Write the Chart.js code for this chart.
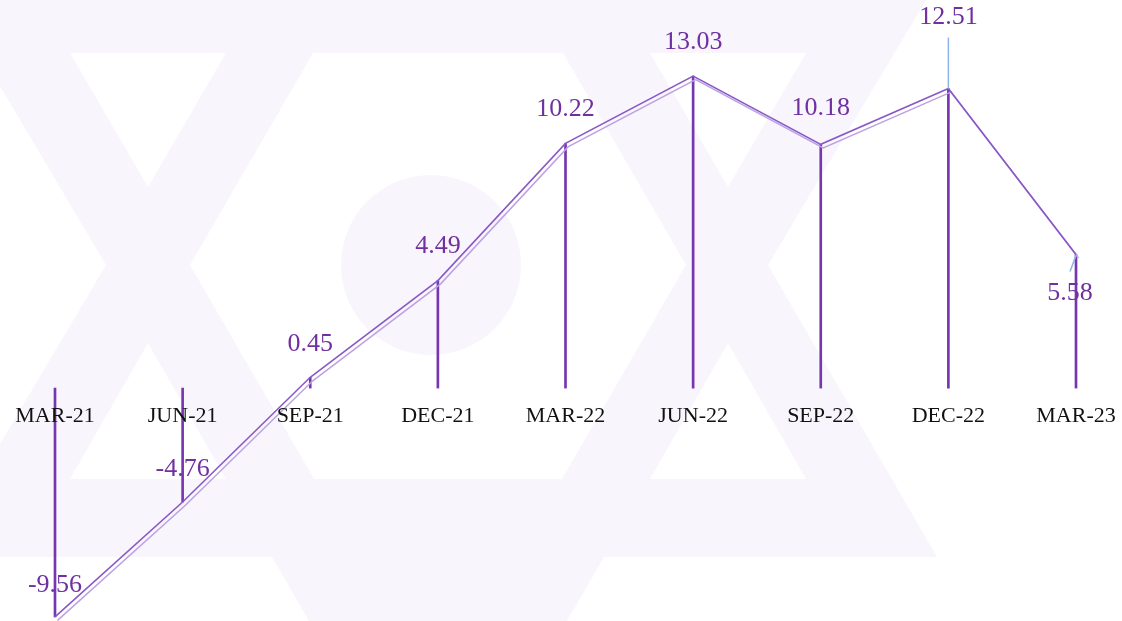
<!DOCTYPE html>
<html>
<head>
<meta charset="utf-8">
<script src="https://cdn.jsdelivr.net/npm/chart.js@4.4.1/dist/chart.umd.min.js"></script>
<style>
html,body{margin:0;padding:0;background:#ffffff;}
#wrap{width:1122px;height:621px;position:relative;overflow:hidden;}
canvas{display:block;}
</style>
</head>
<body>
<div id="wrap"><canvas id="c" width="1122" height="621"></canvas></div>
<script>
// ---- data ----
const categories = ['MAR-21','JUN-21','SEP-21','DEC-21','MAR-22','JUN-22','SEP-22','DEC-22','MAR-23'];
const values = [-9.56, -4.76, 0.45, 4.49, 10.22, 13.03, 10.18, 12.51, 5.58];
const valueLabels = ['-9.56','-4.76','0.45','4.49','10.22','13.03','10.18','12.51','5.58'];
const yRange = [-9.73, 16.21];

const LAV = '#f8f5fd';

const watermark = {
  id: 'watermark',
  beforeDraw(chart) {
    const ctx = chart.ctx;
    ctx.save();
    ctx.fillStyle = '#ffffff';
    ctx.fillRect(0, 0, chart.width, chart.height);
    const poly = (pts, color) => {
      ctx.beginPath();
      ctx.moveTo(pts[0][0], pts[0][1]);
      for (let i = 1; i < pts.length; i++) ctx.lineTo(pts[i][0], pts[i][1]);
      ctx.closePath();
      ctx.fillStyle = color;
      ctx.fill();
    };
    poly([[0,0],[926,0],[768,265],[937,557],[604,557],[567,621],[309,621],[272,557],[0,557]], LAV);
    poly([[70,53],[226,53],[148,187]], '#ffffff');
    poly([[0,86],[106,265],[0,444]], '#ffffff');
    poly([[70,479],[226,479],[148,343]], '#ffffff');
    poly([[313,53],[563,53],[686,265],[562,479],[314,479],[190,265]], '#ffffff');
    poly([[650,53],[806,53],[728,187]], '#ffffff');
    poly([[650,479],[806,479],[728,343]], '#ffffff');
    ctx.beginPath();
    ctx.arc(431, 265, 90, 0, Math.PI * 2);
    ctx.fillStyle = LAV;
    ctx.fill();
    ctx.restore();
  }
};

// draws a dataset shifted by a few pixels (used for the twin "shadow" line)
const shiftPlugin = {
  id: 'shiftPlugin',
  beforeDatasetDraw(chart, args) {
    const s = chart.data.datasets[args.index].pixelShift;
    chart.ctx.save();
    if (s) chart.ctx.translate(s[0], s[1]);
  },
  afterDatasetDraw(chart) {
    chart.ctx.restore();
  }
};

const labelsPlugin = {
  id: 'labelsPlugin',
  afterDatasetsDraw(chart, args, opts) {
    const ctx = chart.ctx;
    const xs = chart.scales.x, ys = chart.scales.y;
    const y0 = ys.getPixelForValue(0);
    ctx.save();
    // leader lines
    ctx.strokeStyle = '#8fb3e4';
    ctx.lineWidth = 1.5;
    const lead = opts.leaders || {};
    Object.keys(lead).forEach(k => {
      const i = +k;
      const px = xs.getPixelForValue(i), py = ys.getPixelForValue(values[i]);
      const L = lead[k];
      ctx.beginPath();
      ctx.moveTo(px + L[0], py + L[1]);
      ctx.lineTo(px + L[2], py + L[3]);
      ctx.stroke();
    });
    // category labels
    ctx.textAlign = 'center';
    ctx.textBaseline = 'middle';
    ctx.fillStyle = '#111111';
    ctx.font = '22px "Liberation Serif", "DejaVu Serif", serif';
    categories.forEach((c, i) => {
      ctx.fillText(c, xs.getPixelForValue(i), y0 + 28);
    });
    // value labels
    ctx.fillStyle = '#7030a0';
    ctx.font = '26px "Liberation Serif", "DejaVu Serif", serif';
    const off = opts.offsets || {};
    valueLabels.forEach((t, i) => {
      const px = xs.getPixelForValue(i), py = ys.getPixelForValue(values[i]);
      const o = off[i] || [0, -34];
      ctx.fillText(t, px + o[0], py + o[1]);
    });
    ctx.restore();
  }
};

new Chart(document.getElementById('c'), {
  type: 'bar',
  data: {
    labels: categories,
    datasets: [
      {
        type: 'bar',
        data: values,
        backgroundColor: '#7636b0',
        borderWidth: 0,
        barThickness: 2,
        clip: false,
        order: 3
      },
      {
        type: 'line',
        data: values,
        borderColor: '#bba3e2',
        borderWidth: 1.5,
        pointRadius: 0,
        tension: 0,
        clip: false,
        order: 2,
        pixelShift: [2.5, 3.5]
      },
      {
        type: 'line',
        data: values,
        borderColor: '#8a58c6',
        borderWidth: 1.6,
        pointRadius: 0,
        tension: 0,
        clip: false,
        order: 1
      }
    ]
  },
  options: {
    responsive: false,
    animation: false,
    devicePixelRatio: 1,
    layout: { padding: { left: 55, right: 46, top: 0, bottom: 0 } },
    scales: {
      x: { display: false, offset: false, grid: { display: false } },
      y: { display: false, min: yRange[0], max: yRange[1], grid: { display: false } }
    },
    plugins: {
      legend: { display: false },
      tooltip: { enabled: false },
      labelsPlugin: {
        offsets: { 0: [0, -32], 1: [0, -33], 2: [0, -33], 6: [0, -36], 7: [0, -71], 8: [-6, 39] },
        leaders: { 7: [0, -51, 0, 0], 8: [-6, 17, 0, 1] }
      }
    }
  },
  plugins: [watermark, shiftPlugin, labelsPlugin]
});
</script>
</body>
</html>
